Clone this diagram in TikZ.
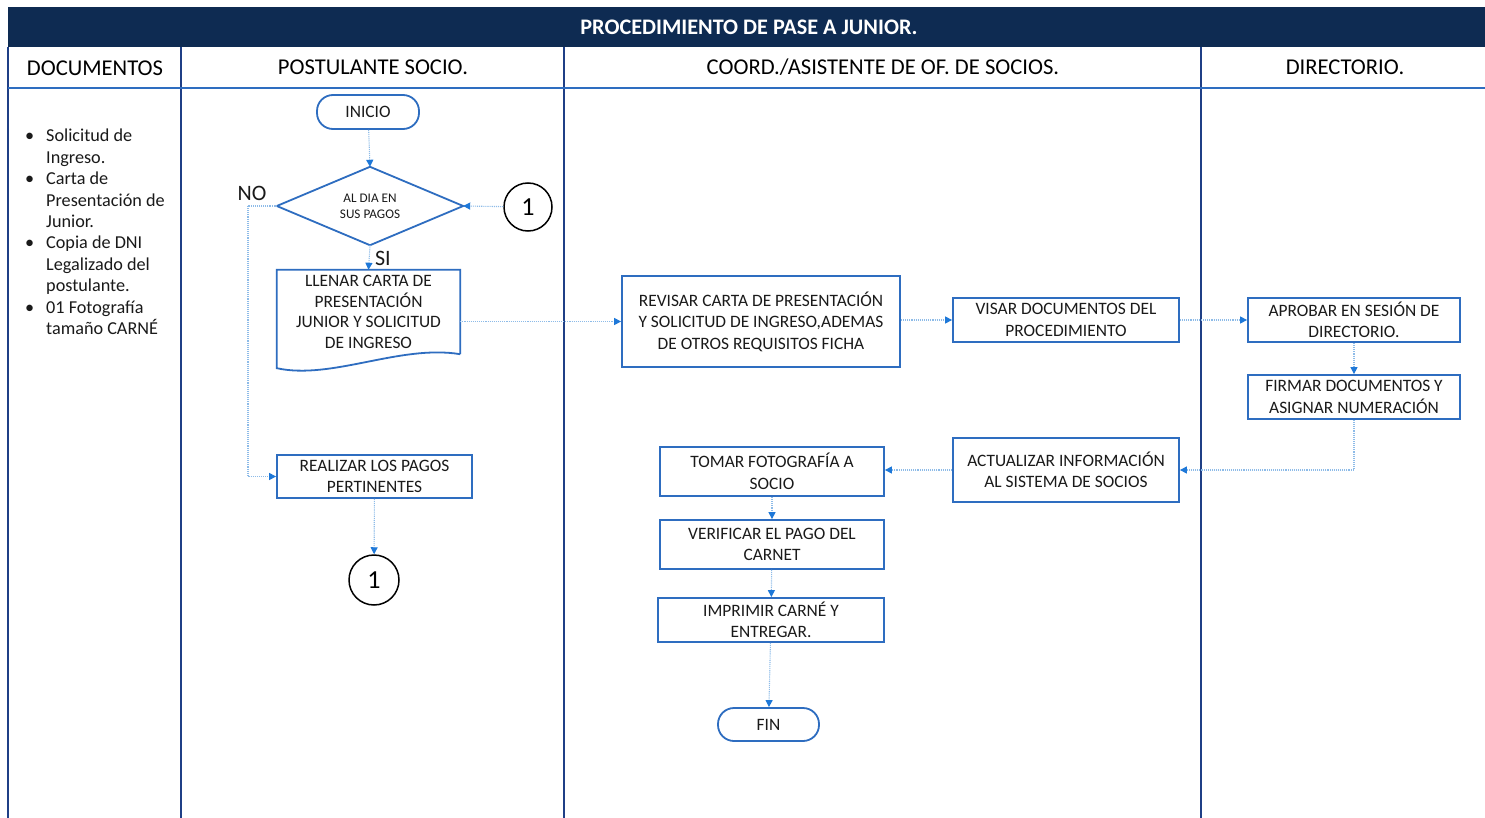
\documentclass[tikz,border=0pt]{standalone}
\usepackage{fontspec}
\setmainfont{Carlito}
\usetikzlibrary{arrows.meta}
\definecolor{navy}{HTML}{0E2B52}
\definecolor{laneblue}{HTML}{1F3F86}
\definecolor{boxblue}{HTML}{2E6DC0}
\definecolor{lineblue}{HTML}{8DBBE8}
\definecolor{tipblue}{HTML}{1E78D8}
\definecolor{txt}{HTML}{1A1A1A}
\tikzset{
  procbox/.style={draw=boxblue, line width=1.8pt, fill=white, align=center, inner sep=0pt, text=txt, font=\fontsize{17.4}{21.5}\selectfont},
  termbox/.style={procbox, rounded corners=16pt},
  shapeline/.style={draw=boxblue, line width=1.8pt},
  flow/.style={draw=lineblue, line width=1.1pt, densely dotted, -{Triangle[length=7pt,width=7pt,color=tipblue,fill=tipblue]}},
  flowplain/.style={draw=lineblue, line width=1.1pt, densely dotted},
  conn/.style={circle, draw=black, line width=1.5pt, fill=white, inner sep=0pt, font=\fontsize{26}{26}\selectfont},
  lane/.style={draw=laneblue, line width=2pt},
  hdr/.style={font=\fontsize{22.6}{26}\selectfont, text=black},
  lbl/.style={font=\fontsize{22}{24}\selectfont, text=txt}
}
\begin{document}
\begin{tikzpicture}[x=1pt,y=-1pt]
\useasboundingbox (0,0) rectangle (1485,818);
\fill[white] (0,0) rectangle (1485,818);
% title band
\fill[navy] (8,7) rectangle (1485,47);
\node[font=\bfseries\fontsize{22.2}{24}\selectfont, text=white] (title) at (749,27) {PROCEDIMIENTO DE PASE A JUNIOR.};
% lanes
\draw[lane] (8,47) -- (8,818);
\draw[lane] (181,47) -- (181,818);
\draw[lane] (564,47) -- (564,818);
\draw[lane] (1201,47) -- (1201,818);
\draw[draw=boxblue, line width=2pt] (8,88) -- (1485,88);
\node[hdr] (h1) at (95,68) {DOCUMENTOS};
\node[hdr] (h2) at (373,67) {POSTULANTE SOCIO.};
\node[hdr] (h3) at (883,67) {COORD./ASISTENTE DE OF. DE SOCIOS.};
\node[hdr] (h4) at (1345,67) {DIRECTORIO.};
% documents list
\node[anchor=north west, align=left, inner sep=0pt, text=txt, font=\fontsize{18.2}{21.4}\selectfont] (docs) at (22,129)
{\makebox[24pt][l]{\,•}Solicitud de\\
 \hspace*{24pt}Ingreso.\\
 \makebox[24pt][l]{\,•}Carta de\\
 \hspace*{24pt}Presentación de\\
 \hspace*{24pt}Junior.\\
 \makebox[24pt][l]{\,•}Copia de DNI\\
 \hspace*{24pt}Legalizado del\\
 \hspace*{24pt}postulante.\\
 \makebox[24pt][l]{\,•}01 Fotografía\\
 \hspace*{24pt}tamaño CARNÉ};
% postulante lane
\node[termbox, minimum width=102pt, minimum height=34pt] (inicio) at (368,112) {INICIO};
\node[inner sep=0pt, minimum width=186pt, minimum height=78pt, align=center, text=txt, font=\fontsize{13.2}{16}\selectfont] (dia) at (370,206) {AL DIA EN\\SUS PAGOS};
\draw[shapeline, line join=miter] (dia.north) -- (dia.east) -- (dia.south) -- (dia.west) -- cycle;
\node[conn, minimum size=48pt] (c1) at (528,207) {1};
\node[align=center, inner sep=0pt, minimum width=183pt, minimum height=84pt, text=txt, font=\fontsize{17.4}{20.4}\selectfont] (docn) at (368.5,312) {LLENAR CARTA DE\\PRESENTACIÓN\\JUNIOR Y SOLICITUD\\DE INGRESO};
\draw[shapeline] (docn.south east) -- (docn.north east) -- (docn.north west) -- ([yshift=-14pt]docn.south west) .. controls ([xshift=55pt,yshift=-26pt]docn.south west) and ([xshift=-60pt,yshift=10pt]docn.south east) .. (docn.south east);
\node[procbox, minimum width=195pt, minimum height=43pt] (pagos) at (374.5,476.5) {REALIZAR LOS PAGOS\\PERTINENTES};
\node[conn, minimum size=50pt] (c1b) at (374,580) {1};
\coordinate (noc) at (248,206);
\node[lbl] (no) at (252,193) {NO};
% coordinator lane
\node[procbox, minimum width=278pt, minimum height=91pt] (revisar) at (761,321.5) {REVISAR CARTA DE PRESENTACIÓN\\Y SOLICITUD DE INGRESO,ADEMAS\\DE OTROS REQUISITOS FICHA};
\node[procbox, minimum width=226pt, minimum height=44pt] (visar) at (1066,320) {VISAR DOCUMENTOS DEL\\PROCEDIMIENTO};
\node[procbox, minimum width=226pt, minimum height=64pt] (actualizar) at (1066,470) {ACTUALIZAR INFORMACIÓN\\AL SISTEMA DE SOCIOS};
\node[procbox, minimum width=224pt, minimum height=49pt] (tomar) at (772,471.5) {TOMAR FOTOGRAFÍA A\\SOCIO};
\node[procbox, minimum width=224pt, minimum height=49pt] (verificar) at (772,544.5) {VERIFICAR EL PAGO DEL\\CARNET};
\node[procbox, minimum width=226pt, minimum height=44pt] (imprimir) at (771,620) {IMPRIMIR CARNÉ Y\\ENTREGAR.};
\node[termbox, minimum width=101pt, minimum height=33pt] (fin) at (768.5,724.5) {FIN};
% directorio lane
\node[procbox, minimum width=212pt, minimum height=44pt] (aprobar) at (1354,320) {APROBAR EN SESIÓN DE\\DIRECTORIO.};
\node[procbox, minimum width=212pt, minimum height=44pt] (firmar) at (1354,397) {FIRMAR DOCUMENTOS Y\\ASIGNAR NUMERACIÓN};
% connectors
\draw[flow] (inicio) -- (dia.north);
\draw[flow] (c1) -- (dia.east);
\draw[flow] (dia.south) -- (docn.north) node[lbl, pos=0.55, anchor=west, xshift=2pt] (si) {SI};
\draw[flowplain] (dia.west) -- (noc);
\draw[flow] (noc) |- (pagos.west);
\draw[flow] (docn.east |- revisar.west) -- (revisar.west);
\draw[flow] (revisar.east |- visar.west) -- (visar.west);
\draw[flow] (visar) -- (aprobar);
\draw[flow] (aprobar) -- (firmar);
\draw[flow] (firmar.south) |- (actualizar.east);
\draw[flow] (actualizar.west) -- (actualizar.west -| tomar.east);
\draw[flow] (tomar) -- (verificar);
\draw[flow] (verificar) -- (imprimir);
\draw[flow] (imprimir) -- (fin);
\draw[flow] (pagos) -- (c1b);
\end{tikzpicture}
\end{document}
